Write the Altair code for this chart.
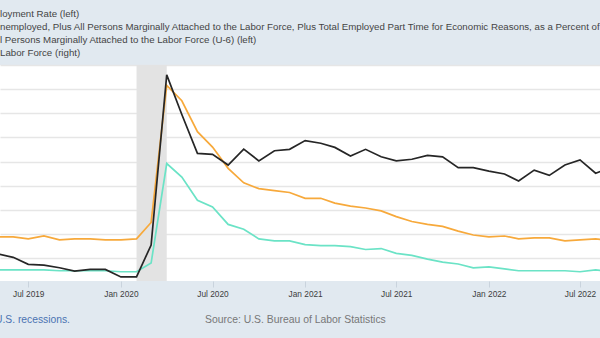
import altair as alt
import pandas as pd

# ---- data (monthly) ----
months = [
    "2019-05-01", "2019-06-01", "2019-07-01", "2019-08-01", "2019-09-01", "2019-10-01", "2019-11-01", "2019-12-01",
    "2020-01-01", "2020-02-01", "2020-03-01", "2020-04-01", "2020-05-01", "2020-06-01", "2020-07-01", "2020-08-01",
    "2020-09-01", "2020-10-01", "2020-11-01", "2020-12-01",
    "2021-01-01", "2021-02-01", "2021-03-01", "2021-04-01", "2021-05-01", "2021-06-01", "2021-07-01", "2021-08-01",
    "2021-09-01", "2021-10-01", "2021-11-01", "2021-12-01",
    "2022-01-01", "2022-02-01", "2022-03-01", "2022-04-01", "2022-05-01", "2022-06-01", "2022-07-01", "2022-08-01",
    "2022-09-01",
]
unrate = [
    3.8, 3.8, 3.8, 3.8, 3.7, 3.7, 3.7, 3.7,
    3.6, 3.6, 4.5, 14.8, 13.4, 11.0, 10.3, 8.5, 8.0, 7.0, 6.8, 6.8,
    6.4, 6.3, 6.3, 6.2, 5.9, 6.0, 5.5, 5.3, 4.9, 4.6, 4.4, 4.0,
    4.1, 3.9, 3.7, 3.7, 3.7, 3.7, 3.6, 3.8, 3.6,
]
u6 = [
    7.2, 7.2, 7.0, 7.3, 6.9, 7.0, 7.0, 6.9,
    6.9, 7.0, 8.7, 22.9, 21.3, 18.1, 16.5, 14.3, 12.8, 12.2, 12.0, 11.8,
    11.2, 11.2, 10.7, 10.4, 10.2, 9.9, 9.3, 8.8, 8.5, 8.3, 7.8, 7.4,
    7.2, 7.3, 7.0, 7.1, 7.1, 6.8, 6.9, 7.0, 6.8,
]
not_in_lf = [
    96180, 96040, 95750, 95720, 95610, 95470, 95540, 95540,
    95230, 95230, 96550, 103590, 101950, 100340, 100300, 99860, 100520, 100030, 100450, 100510,
    100870, 100760, 100590, 100230, 100510, 100200, 100030, 100100, 100260, 100200, 99750, 99750,
    99610, 99490, 99200, 99650, 99430, 99860, 100070, 99520, 99760,
]
recession_start = ["2020-02-01"]
recession_end = ["2020-04-01"]

legend_lines = [
    "loyment Rate (left)",
    "nemployed, Plus All Persons Marginally Attached to the Labor Force, Plus Total Employed Part Time for Economic Reasons, as a Percent of",
    "l Persons Marginally Attached to the Labor Force (U-6) (left)",
    "Labor Force (right)",
]
footer_left = "U.S. recessions."
footer_source = "Source: U.S. Bureau of Labor Statistics"

series_names = ["Unemployment Rate", "U-6"]
series_colors = ["#6be3c6", "#f7a93b"]

# ---- tables ----
left_df = pd.DataFrame({
    "date": months * 2,
    "value": unrate + u6,
    "series": [series_names[0]] * len(months) + [series_names[1]] * len(months),
})
right_df = pd.DataFrame({"date": months, "nilf": not_in_lf})
rec_df = pd.DataFrame({"start": recession_start, "end": recession_end})

W, H = 600, 216
FONT = "Liberation Sans"

x_scale = alt.Scale(
    type="utc",
    domain=[alt.DateTime(year=2019, month=5, date=5, hours=19, utc=True),
            alt.DateTime(year=2022, month=8, date=9, hours=17, utc=True)],
)
x_axis = alt.Axis(
    format="%b %Y", tickCount={"interval": "month", "step": 6}, title=None,
    grid=False, domain=False, tickColor="#c9d3dd", tickSize=6, tickWidth=1,
    labelFont=FONT, labelFontSize=8.3, labelColor="#3d3d3d", labelPadding=2,
)

rec = alt.Chart(rec_df).mark_rect(color="#e3e3e3").encode(
    x=alt.X("start:T", scale=x_scale, axis=x_axis),
    x2="end:T",
    y=alt.value(0),
    y2=alt.value(H),
)

left = alt.Chart(left_df).mark_line(clip=True, strokeWidth=1.7).encode(
    x=alt.X("date:T", scale=x_scale, axis=x_axis),
    y=alt.Y("value:Q",
            scale=alt.Scale(domain=[2.64, 25], nice=False, zero=False),
            axis=alt.Axis(values=[5, 7.5, 10, 12.5, 15, 17.5, 20, 22.5, 25],
                          grid=True, gridColor="#e6e6e6", gridWidth=1.5,
                          labels=False, ticks=False, domain=False, title=None)),
    color=alt.Color("series:N", scale=alt.Scale(domain=series_names, range=series_colors), legend=None),
)

right = alt.Chart(right_df).mark_line(clip=True, strokeWidth=1.7, color="#262626").encode(
    x=alt.X("date:T", scale=x_scale, axis=x_axis),
    y=alt.Y("nilf:Q", scale=alt.Scale(domain=[95060, 104000], nice=False, zero=False), axis=None),
)


def label(txt, x, y, size, color, align="left"):
    return alt.Chart(pd.DataFrame({"t": [txt]})).mark_text(
        align=align, baseline="middle", font=FONT, fontSize=size, color=color
    ).encode(text="t:N", x=alt.value(x), y=alt.value(y))


texts = [label(t, 0, -51 + 13 * i, 9.7, "#444") for i, t in enumerate(legend_lines)]
texts.append(label(footer_left, -5, 255, 10.3, "#4a72b2"))
texts.append(label(footer_source, 205, 255, 10.4, "#777"))

chart = alt.layer(rec, left, right, *texts).resolve_scale(y="independent").properties(
    width=W, height=H,
    padding={"left": 0, "right": 0, "top": 65, "bottom": 57},
    autosize=alt.AutoSizeParams(type="none"),
    background="#e1e9f0",
).configure_view(fill="white", stroke=None)

chart.save("out.html", embed_options={"renderer": "svg", "actions": False})
